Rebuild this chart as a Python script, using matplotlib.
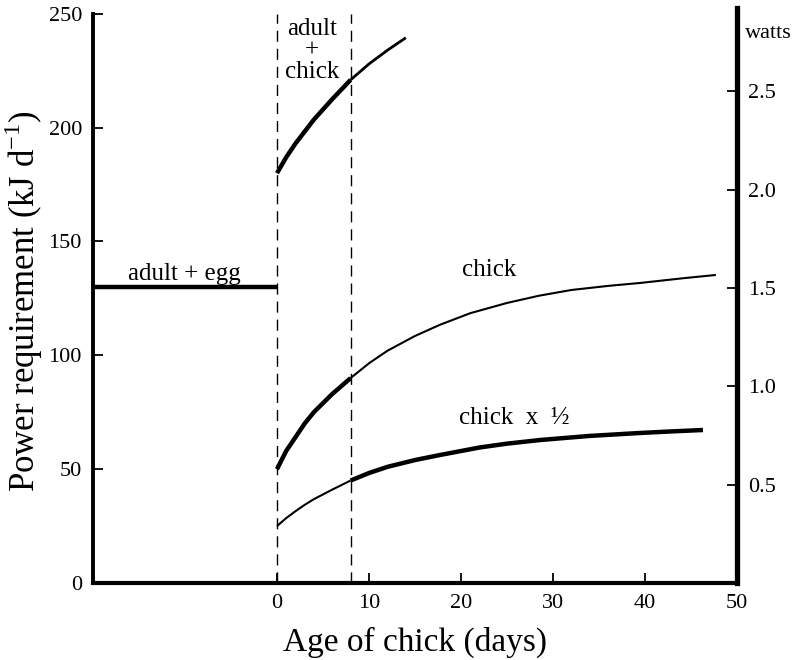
import numpy as np
import matplotlib.pyplot as plt

plt.rcParams['font.family'] = ['Liberation Serif', 'DejaVu Serif']
plt.rcParams['mathtext.fontset'] = 'custom'
plt.rcParams['mathtext.rm'] = 'Liberation Serif'

# power requirement, kJ per day
egg_x = [-20, 0]
egg_y = [130, 130]

adult_chick_x = [0, 1, 2, 4, 6, 8, 10, 12, 14]
adult_chick_y = [180, 187, 193, 203.5, 212.5, 221, 228, 234, 239.5]

chick_x = [0, 1, 2, 3, 4, 6, 8, 10, 12, 15, 17.7, 21, 25, 28.5, 32, 36, 39.5, 44, 47.7]
chick_y = [50, 58, 64, 70, 75, 83, 90, 96.5, 102, 108.5, 113.4, 118.5, 123, 126.2, 128.7, 130.5, 131.8, 133.8, 135.3]

half_x = [0, 1, 2, 3, 4, 6, 8, 10, 12, 15, 17.7, 22, 25, 28.6, 34, 39.5, 43, 46.3]
half_y = [25, 28.5, 31.5, 34.3, 36.8, 41, 45, 48.3, 51, 54, 56.2, 59.5, 61.2, 62.8, 64.6, 65.9, 66.6, 67.2]

phase_lines = [0, 8]
x_ticks = [0, 10, 20, 30, 40, 50]
y_ticks = [0, 50, 100, 150, 200, 250]
watt_ticks = [0.5, 1.0, 1.5, 2.0, 2.5]
kj_per_watt = 86.4

fig = plt.figure(figsize=(7.99, 6.6), dpi=100)
ax = fig.add_axes([0.1164, 0.1167, 0.806, 0.8713])

def split(xs, ys, cut):
    xs = np.array(xs); ys = np.array(ys)
    a = xs <= cut
    b = xs >= cut
    return (xs[a], ys[a]), (xs[b], ys[b])

thick, thin = 3.2, 1.5
ax.plot(egg_x, egg_y, 'k', lw=thick, solid_capstyle='butt')
(p1, p2) = split(adult_chick_x, adult_chick_y, 8)
ax.plot(*p1, 'k', lw=thick, solid_capstyle='butt')
ax.plot(*p2, 'k', lw=2.0, solid_capstyle='butt')
(p1, p2) = split(chick_x, chick_y, 8)
ax.plot(*p1, 'k', lw=thick, solid_capstyle='butt')
ax.plot(*p2, 'k', lw=thin, solid_capstyle='butt')
(p1, p2) = split(half_x, half_y, 8)
ax.plot(*p1, 'k', lw=thin, solid_capstyle='butt')
ax.plot(*p2, 'k', lw=thick, solid_capstyle='butt')

for xv in phase_lines:
    ax.plot([xv, xv], [0, 250], 'k', lw=1.0, dashes=(8, 5))

fs = 18
ax.text(-10.1, 133, 'adult + egg', ha='center', va='baseline', fontsize=fs)
ax.text(3.8, 248, 'adult\n+\nchick', ha='center', va='top', fontsize=fs, linespacing=0.95)
ax.text(23.1, 135, 'chick', ha='center', va='baseline', fontsize=fs)
ax.text(25.8, 70, 'chick  x  ½', ha='center', va='baseline', fontsize=fs)

ax.set_xlim(-20, 50)
ax.set_ylim(0, 252.6)
ax.set_xticks(x_ticks)
ax.set_yticks(y_ticks)
ax.spines['top'].set_visible(False)
ax.spines['right'].set_visible(False)
ax.spines['left'].set_bounds(0, 250)
ax.spines['left'].set_linewidth(2.8)
ax.spines['bottom'].set_linewidth(3)
ax.tick_params(direction='in', length=7, width=1.3, labelsize=16, pad=8)
ax.set_xlabel('Age of chick (days)', fontsize=24, labelpad=10)
ax.set_ylabel('Power requirement (kJ d$^{-1}$)', fontsize=25)
ax.yaxis.set_label_coords(-0.074, 0.49)

ax2 = ax.twinx()
ax2.set_ylim(0, 252.6 / kj_per_watt)
ax2.set_yticks(watt_ticks)
ax2.set_yticklabels(['%.1f' % w for w in watt_ticks])
for s in ['top', 'left', 'bottom']:
    ax2.spines[s].set_visible(False)
ax2.spines['right'].set_linewidth(3.8)
ax2.tick_params(direction='in', length=7, width=1.3, labelsize=16, pad=8)
ax2.text(1.013, 0.956, 'watts', transform=ax2.transAxes, fontsize=16, ha='left', va='center')

fig.savefig('out.png', dpi=100)
